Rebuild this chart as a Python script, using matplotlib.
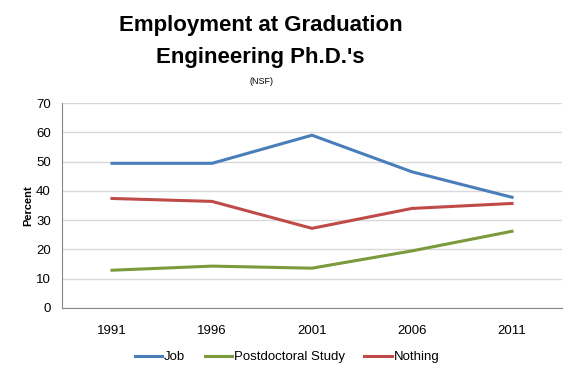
import matplotlib.pyplot as plt

years = ['1991', '1996', '2001', '2006', '2011']
job = [49.4, 49.4, 59.0, 46.5, 37.8]
postdoc = [12.9, 14.3, 13.6, 19.5, 26.2]
nothing = [37.4, 36.4, 27.2, 34.0, 35.7]

plt.rcParams['font.family'] = ['Liberation Sans', 'DejaVu Sans']

fig = plt.figure(figsize=(5.74, 3.76), dpi=100)
ax = fig.add_axes([62 / 574, 1 - 308 / 376, 500 / 574, 205 / 376])

x = range(len(years))
ax.plot(x, job, color='#4a7ebb', lw=2.2, label='Job')
ax.plot(x, postdoc, color='#7a9a3c', lw=2.2, label='Postdoctoral Study')
ax.plot(x, nothing, color='#be4b48', lw=2.2, label='Nothing')

ax.set_xlim(-0.5, 4.5)
ax.set_ylim(0, 70)
ax.set_yticks(range(0, 71, 10))
ax.set_xticks(list(x))
ax.set_xticklabels(years)
ax.yaxis.grid(True, color='#d9d9d9', lw=1)
ax.set_axisbelow(True)
ax.tick_params(length=0, labelsize=9.5, pad=8)
ax.tick_params(axis='x', pad=12)
for s in ['top', 'right']:
    ax.spines[s].set_visible(False)
ax.spines['left'].set_color('#868686')
ax.spines['bottom'].set_color('#868686')
ax.set_ylabel('Percent', fontsize=8, fontweight='bold', labelpad=2)

fig.text(0.454, 1 - 26 / 376, 'Employment at Graduation', ha='center', va='center',
         fontsize=16, fontweight='heavy')
fig.text(0.454, 1 - 57 / 376, "Engineering Ph.D.'s", ha='center', va='center',
         fontsize=16, fontweight='heavy')
fig.text(0.455, 1 - 81 / 376, '(NSF)', ha='center', va='center', fontsize=6.5)

ax.legend(loc='center', bbox_to_anchor=((287 - 62) / 500, (308 - 357) / 205), ncol=3,
          frameon=False, fontsize=9.5, handlelength=2.1, handletextpad=0.1,
          columnspacing=1.5)

fig.savefig('out.png', dpi=100)
